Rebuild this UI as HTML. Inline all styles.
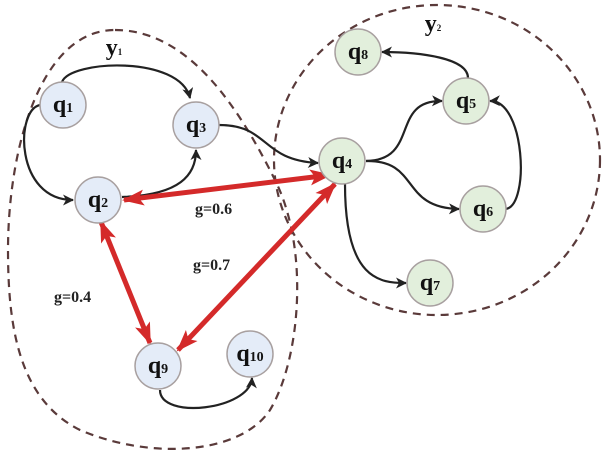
<!DOCTYPE html>
<html><head><style>body{margin:0;background:#fff}svg{display:block}</style></head><body>
<svg width="608" height="463" viewBox="0 0 608 463" xmlns="http://www.w3.org/2000/svg" font-family="Liberation Serif, serif" font-weight="bold">
<defs>
<marker id="a" markerWidth="11" markerHeight="11" refX="10" refY="5.5" orient="auto" markerUnits="userSpaceOnUse"><path d="M0,0 L11,5.5 L0,11 L3,5.5 Z" fill="#222"/></marker>
<marker id="r" markerWidth="22" markerHeight="16" refX="20" refY="8" orient="auto-start-reverse" markerUnits="userSpaceOnUse"><path d="M0,0 L22,8 L0,16 L5,8 Z" fill="#d42a2a"/></marker>
</defs>
<g fill="none" stroke="#5a3a3a" stroke-width="2.2" stroke-dasharray="8,6">
<path d="M115,30 C190,30 240,110 275,180 C310,250 300,360 270,410 C240,455 150,460 80,430 C20,400 8,330 8,250 C8,150 40,30 115,30 Z"/>
<ellipse cx="437" cy="160" rx="163" ry="155"/>
</g>
<g fill="none" stroke="#222" stroke-width="2.2">
<path d="M62,82 C70,60 180,55 190,98" marker-end="url(#a)"/>
<path d="M40,105 C15,110 15,200 73,200" marker-end="url(#a)"/>
<path d="M122,197 C180,195 196,175 196,150" marker-end="url(#a)"/>
<path d="M219,125 C270,125 260,160 318,163" marker-end="url(#a)"/>
<path d="M366,161 C420,160 390,100 442,101" marker-end="url(#a)"/>
<path d="M366,161 C420,160 400,208 459,209" marker-end="url(#a)"/>
<path d="M345,184 C345,280 380,283 406,283" marker-end="url(#a)"/>
<path d="M468,78 C468,58 420,52 382,52" marker-end="url(#a)"/>
<path d="M506,209 C530,205 525,100 490,101" marker-end="url(#a)"/>
<path d="M160,390 C160,420 250,410 252,378" marker-end="url(#a)"/>
</g>
<g stroke="#d42a2a" stroke-width="5" fill="none">
<line x1="124" y1="200" x2="330" y2="175" marker-start="url(#r)" marker-end="url(#r)"/>
<line x1="101" y1="222" x2="150" y2="343" marker-start="url(#r)" marker-end="url(#r)"/>
<line x1="335" y1="184" x2="178" y2="350" marker-start="url(#r)" marker-end="url(#r)"/>
</g>
<g stroke="#a8a0a0" stroke-width="1.5">
<circle cx="63" cy="105" r="23" fill="#e4ecf8"/>
<circle cx="196" cy="125" r="23" fill="#e4ecf8"/>
<circle cx="98" cy="200" r="23" fill="#e4ecf8"/>
<circle cx="158" cy="366" r="23" fill="#e4ecf8"/>
<circle cx="250" cy="354" r="23" fill="#e4ecf8"/>
<circle cx="342" cy="161" r="23" fill="#e2efdc"/>
<circle cx="466" cy="101" r="23" fill="#e2efdc"/>
<circle cx="358" cy="52" r="23" fill="#e2efdc"/>
<circle cx="483" cy="209" r="23" fill="#e2efdc"/>
<circle cx="430" cy="283" r="23" fill="#e2efdc"/>
</g>
<g fill="#111" font-size="24" text-anchor="middle">
<text x="63" y="112">q<tspan font-size="14">1</tspan></text>
<text x="196" y="132">q<tspan font-size="14">3</tspan></text>
<text x="98" y="207">q<tspan font-size="14">2</tspan></text>
<text x="158" y="373">q<tspan font-size="14">9</tspan></text>
<text x="250" y="361">q<tspan font-size="14">10</tspan></text>
<text x="342" y="168">q<tspan font-size="14">4</tspan></text>
<text x="466" y="108">q<tspan font-size="14">5</tspan></text>
<text x="358" y="59">q<tspan font-size="14">8</tspan></text>
<text x="483" y="216">q<tspan font-size="14">6</tspan></text>
<text x="430" y="290">q<tspan font-size="14">7</tspan></text>
<text x="114" y="55">y<tspan font-size="9">1</tspan></text>
<text x="433" y="31">y<tspan font-size="9">2</tspan></text>
</g>
<g fill="#222" font-size="16">
<text x="195" y="214">g=0.6</text>
<text x="193" y="270">g=0.7</text>
<text x="54" y="302">g=0.4</text>
</g>
</svg>
</body></html>
